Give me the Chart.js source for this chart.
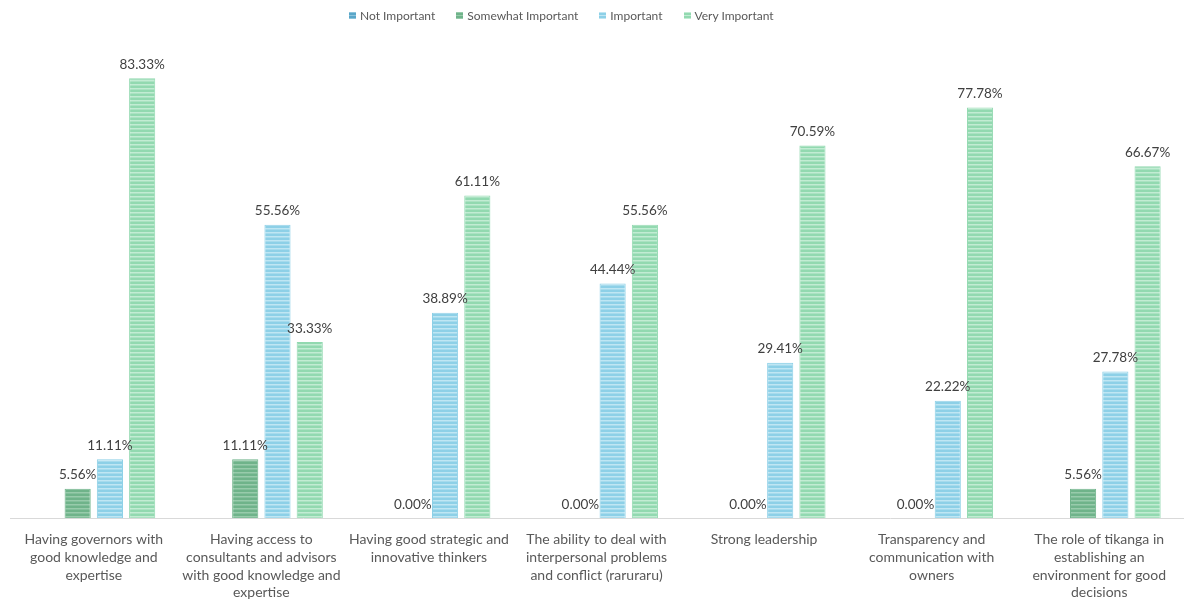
<!DOCTYPE html>
<html>
<head>
<meta charset="utf-8">
<script src="https://cdn.jsdelivr.net/npm/chart.js@4"></script>
<style>
  html, body { margin: 0; padding: 0; background: #fff; }
  #wrap { position: relative; width: 1192px; height: 603px; }
  #legend {
    position: absolute; top: 8px; left: 349px;
    display: flex; align-items: center;
    font-family: Lato, "Open Sans", sans-serif; font-size: 12px; color: #595959;
  }
  #legend .item { display: flex; align-items: center; margin-right: 21px; }
  #legend .box { width: 7px; height: 7px; margin-right: 4px; }
</style>
</head>
<body>
<div id="wrap">
  <canvas id="bar-chart" width="1192" height="603"></canvas>
  <div id="legend"></div>
</div>
<script>
const categories = [
  ["Having governors with", "good knowledge and", "expertise"],
  ["Having access to", "consultants and advisors", "with good knowledge and", "expertise"],
  ["Having good strategic and", "innovative thinkers"],
  ["The ability to deal with", "interpersonal problems", "and conflict (raruraru)"],
  ["Strong leadership"],
  ["Transparency and", "communication with", "owners"],
  ["The role of tikanga in", "establishing an", "environment for good", "decisions"]
];

const seriesNames = ["Not Important", "Somewhat Important", "Important", "Very Important"];

const notImportant = [null, null, null, null, null, null, null];
const somewhatImportant = [5.56, 11.11, 0.00, 0.00, 0.00, 0.00, 5.56];
const important = [11.11, 55.56, 38.89, 44.44, 29.41, 22.22, 27.78];
const veryImportant = [83.33, 33.33, 61.11, 55.56, 70.59, 77.78, 66.67];

// couleurs : base + rayure claire
const colors = [
  { base: '#5aa6c8', stripe: '#8cc4dc' },
  { base: '#6fb38a', stripe: '#98cbab' },
  { base: '#8dd0e7', stripe: '#bfe6f3' },
  { base: '#92d9b0', stripe: '#c2ecd3' }
];

function stripes(c) {
  const p = document.createElement('canvas');
  p.width = 4; p.height = 4;
  const g = p.getContext('2d');
  g.fillStyle = c.base;
  g.fillRect(0, 0, 4, 4);
  g.fillStyle = c.stripe;
  g.fillRect(0, 0, 4, 1.5);
  return g.createPattern(p, 'repeat');
}

const values = [notImportant, somewhatImportant, important, veryImportant];

// étiquettes au-dessus des barres
const barLabels = {
  id: 'barLabels',
  afterDatasetsDraw(chart) {
    const ctx = chart.ctx;
    ctx.save();
    ctx.font = '13.5px Lato, "Open Sans", sans-serif';
    ctx.fillStyle = '#404040';
    ctx.textAlign = 'center';
    ctx.textBaseline = 'bottom';
    chart.data.datasets.forEach((ds, i) => {
      chart.getDatasetMeta(i).data.forEach((bar, j) => {
        const v = ds.data[j];
        if (v === null || v === undefined) return;
        ctx.fillText(v.toFixed(2) + '%', bar.x, bar.y - 7);
      });
    });
    ctx.restore();
  }
};

const chart = new Chart(document.getElementById('bar-chart'), {
  type: 'bar',
  data: {
    labels: categories,
    datasets: seriesNames.map((name, i) => ({
      label: name,
      data: values[i],
      backgroundColor: stripes(colors[i]),
      borderColor: colors[i].base,
      borderWidth: 1,
      barPercentage: 0.81,
      categoryPercentage: 0.77
    }))
  },
  options: {
    responsive: false,
    animation: false,
    layout: { padding: { top: 43, left: 10, right: 9, bottom: 0 } },
    plugins: {
      legend: { display: false },
      tooltip: { enabled: false }
    },
    scales: {
      x: {
        grid: { display: false, drawTicks: false },
        border: { display: true, color: '#d9d9d9', width: 1 },
        ticks: {
          color: '#595959',
          font: { family: 'Lato, "Open Sans", sans-serif', size: 14, lineHeight: 1.26 },
          padding: 13,
          maxRotation: 0,
          autoSkip: false
        },
        afterFit: (scale) => { scale.height = 85; }
      },
      y: {
        display: false,
        min: 0,
        max: 90
      }
    }
  },
  plugins: [barLabels]
});

// légende HTML
const legend = document.getElementById('legend');
seriesNames.forEach((name, i) => {
  const item = document.createElement('div');
  item.className = 'item';
  const box = document.createElement('span');
  box.className = 'box';
  box.style.background = `repeating-linear-gradient(180deg, ${colors[i].stripe} 0 1px, ${colors[i].base} 1px 3px)`;
  item.appendChild(box);
  item.appendChild(document.createTextNode(name));
  legend.appendChild(item);
});
</script>
</body>
</html>
